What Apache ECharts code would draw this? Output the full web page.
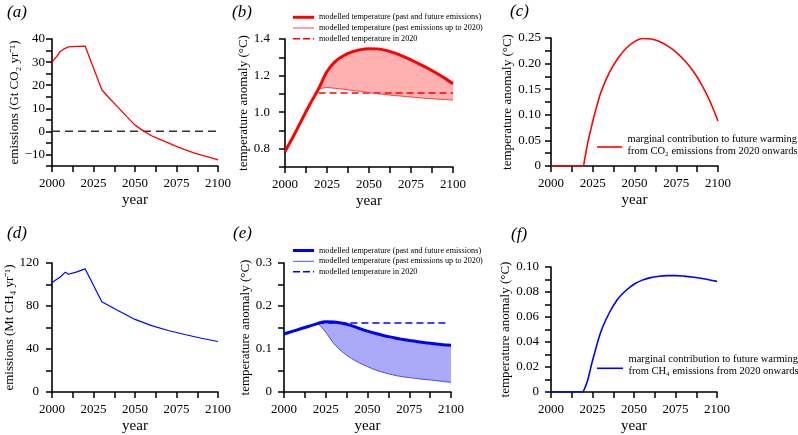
<!DOCTYPE html>
<html><head><meta charset="utf-8">
<script src="https://cdn.jsdelivr.net/npm/echarts@6/dist/echarts.min.js"></script>
<style>html,body{margin:0;padding:0;background:#fff}#c{width:798px;height:435px}</style>
</head><body><div id="c"></div>
<script>
// ---------- data ----------
const xTickLabels = ['2000', '2025', '2050', '2075', '2100'];

// (a) CO2 emissions, Gt CO2 / yr
const aYears = [2000, 2001, 2003, 2005, 2007, 2010, 2015, 2020, 2030, 2035, 2040, 2045, 2050, 2055, 2060, 2065, 2070, 2075, 2080, 2085, 2090, 2095, 2100];
const aValues = [30, 30.6, 32.6, 34.6, 35.6, 36.6, 36.8, 36.9, 18, 14, 10.3, 6.4, 2.7, 0.2, -1.9, -3.5, -5, -6.5, -7.9, -9.2, -10.3, -11.3, -12.3];
const aZeroYears = [2000, 2100];
const aZero = [0, 0];
const aYTickLabels = ['-10', '0', '10', '20', '30', '40'];

// (b) CO2 temperature
const tempYears = [2000, 2005, 2010, 2015, 2020, 2025, 2030, 2035, 2040, 2045, 2050, 2055, 2060, 2065, 2070, 2075, 2080, 2085, 2090, 2095, 2100];
const bThick = [0.785, 0.868, 0.958, 1.046, 1.128, 1.222, 1.278, 1.31, 1.330, 1.342, 1.347, 1.346, 1.338, 1.324, 1.306, 1.286, 1.263, 1.24, 1.214, 1.186, 1.155];
const futureYears = [2020, 2025, 2030, 2035, 2040, 2045, 2050, 2055, 2060, 2065, 2070, 2075, 2080, 2085, 2090, 2095, 2100];
const bThin = [1.128, 1.134, 1.130, 1.125, 1.119, 1.113, 1.107, 1.101, 1.096, 1.091, 1.087, 1.083, 1.079, 1.075, 1.072, 1.069, 1.066];
const bDashYears = [2020, 2100];
const bDash = [1.105, 1.105];
const bYTickLabels = ['0.8', '1.0', '1.2', '1.4'];

// (c) CO2 marginal contribution
const cYears = [2000, 2019, 2020, 2021, 2022, 2023, 2025, 2027, 2030, 2035, 2040, 2045, 2050, 2055, 2060, 2065, 2070, 2075, 2080, 2085, 2090, 2095, 2100];
const cValues = [0, 0, 0.01, 0.028, 0.045, 0.06, 0.087, 0.112, 0.145, 0.183, 0.21, 0.23, 0.243, 0.249, 0.248, 0.243, 0.234, 0.222, 0.206, 0.186, 0.16, 0.128, 0.088];
const cYTickLabels = ['0', '0.05', '0.10', '0.15', '0.20', '0.25'];

// (d) CH4 emissions, Mt CH4 / yr
const dYears = [2000, 2002, 2005, 2008, 2009, 2010, 2011, 2015, 2020, 2030, 2040, 2050, 2060, 2070, 2080, 2090, 2100];
const dValues = [101.5, 104, 107, 111.5, 111, 109.5, 110, 111.8, 114.5, 84, 75.5, 67.5, 61.8, 57.2, 53.5, 50, 47];
const dYTickLabels = ['0', '40', '80', '120'];

// (e) CH4 temperature
const eThick = [0.135, 0.141, 0.147, 0.153, 0.159, 0.1635, 0.163, 0.16, 0.155, 0.148, 0.1415, 0.136, 0.131, 0.127, 0.123, 0.12, 0.117, 0.1145, 0.112, 0.110, 0.1085];
const eThinYears = [2020, 2022, 2025, 2030, 2035, 2040, 2045, 2050, 2055, 2060, 2065, 2070, 2075, 2080, 2085, 2090, 2095, 2100];
const eThin = [0.159, 0.153, 0.139, 0.112, 0.093, 0.079, 0.068, 0.059, 0.051, 0.045, 0.04, 0.036, 0.0335, 0.031, 0.029, 0.027, 0.0245, 0.0225];
const eDashYears = [2020, 2097];
const eDash = [0.1605, 0.1605];
const eYTickLabels = ['0', '0.1', '0.2', '0.3'];

// (f) CH4 marginal contribution
const fYears = [2000, 2019, 2020, 2022, 2025, 2030, 2035, 2040, 2045, 2050, 2055, 2060, 2065, 2070, 2075, 2080, 2085, 2090, 2095, 2100];
const fValues = [0, 0, 0.002, 0.009, 0.025, 0.048, 0.063, 0.074, 0.081, 0.0862, 0.0895, 0.0915, 0.0926, 0.0931, 0.0931, 0.0927, 0.092, 0.091, 0.0898, 0.0885];
const fYTickLabels = ['0', '0.02', '0.04', '0.06', '0.08', '0.10'];

// ---------- helpers ----------
const FONT = "'Liberation Serif', 'Times New Roman', serif";
const RED = '#ff0000', BLUE = '#0000ff';
const pairs = (xs, ys) => xs.map((x, i) => [x, ys[i]]);
const at = (years, vals, y) => vals[years.indexOf(y)];
const pick = (labels) => (v) => {
  const hit = labels.find(s => Math.abs(parseFloat(s) - v) < 1e-7);
  return hit === undefined ? '' : hit.replace('-', '\u2212');
};
// white mask under the lower curve, widened by one year on each side to hide anti-aliasing seams
const maskData = (xs, ys) => [[xs[0] - 1, ys[0]]].concat(pairs(xs, ys), [[xs[xs.length - 1] + 1, ys[ys.length - 1]]]);

const grids = [
  { left: 52, top: 39, width: 166, height: 127 },
  { left: 285, top: 39, width: 168, height: 128 },
  { left: 551, top: 38, width: 167, height: 128 },
  { left: 52, top: 263, width: 166, height: 129 },
  { left: 284, top: 263, width: 167, height: 129 },
  { left: 551, top: 267, width: 166, height: 128 }
];

const mkTick = () => ({ show: true, inside: false, interval: 0, length: 6, lineStyle: { color: '#000', width: 1.5 } });

const xAxes = grids.map((g, i) => ({
  gridIndex: i, type: 'value', min: 2000, max: 2100, interval: 12.5,
  z: 10,
  axisLine: { show: true, onZero: false, lineStyle: { color: '#000', width: 1.6 } },
  axisTick: mkTick(), splitLine: { show: false },
  axisLabel: { show: true, formatter: pick(xTickLabels), fontFamily: FONT, fontSize: 13, color: '#000', margin: 11 },
  name: 'year', nameLocation: 'middle', nameGap: 27,
  nameTextStyle: { fontFamily: FONT, fontSize: 15, color: '#000' }
}));

const yConf = [
  { min: -15, max: 40, interval: 5, labels: aYTickLabels, margin: 7, name: 'emissions (Gt CO\u2082 yr\u207B\u00B9)', gap: 30 },
  { min: 0.7, max: 1.4, interval: 0.1, labels: bYTickLabels, margin: 15, name: 'temperature anomaly (\u00B0C)', gap: 31 },
  { min: 0, max: 0.25, interval: 0.025, labels: cYTickLabels, margin: 10, name: 'temperature anomaly (\u00B0C)', gap: 37 },
  { min: 0, max: 120, interval: 20, labels: dYTickLabels, margin: 13, name: 'emissions (Mt CH\u2084 yr\u207B\u00B9)', gap: 30 },
  { min: 0, max: 0.3, interval: 0.05, labels: eYTickLabels, margin: 12, name: 'temperature anomaly (\u00B0C)', gap: 29 },
  { min: 0, max: 0.1, interval: 0.01, labels: fYTickLabels, margin: 12, name: 'temperature anomaly (\u00B0C)', gap: 38 }
];
const yAxes = yConf.map((c, i) => ({
  gridIndex: i, type: 'value', min: c.min, max: c.max, interval: c.interval,
  axisLine: { show: true, onZero: false, lineStyle: { color: '#000', width: 1.6 } },
  axisTick: mkTick(), splitLine: { show: false },
  axisLabel: { show: true, formatter: pick(c.labels), fontFamily: FONT, fontSize: 13, color: '#000', margin: c.margin },
  name: c.name, nameLocation: 'middle', nameGap: c.gap,
  nameTextStyle: { fontFamily: FONT, fontSize: 13, color: '#000' }
}));

const line = (i, data, color, width, extra) => Object.assign({
  type: 'line', xAxisIndex: i, yAxisIndex: i, data, symbol: 'none', silent: true,
  lineStyle: { color, width }, z: 5
}, extra || {});

const SM = 0.3;
const bThickFuture = futureYears.map(y => at(tempYears, bThick, y));
const eThickFuture = eThinYears.map(y => {
  const k = tempYears.indexOf(y);
  if (k >= 0) return eThick[k];
  const j = tempYears.findIndex(t => t > y);
  const t0 = tempYears[j - 1], t1 = tempYears[j];
  return eThick[j - 1] + (eThick[j] - eThick[j - 1]) * (y - t0) / (t1 - t0);
});

const series = [
  // (a)
  line(0, pairs(aZeroYears, aZero), '#333', 1.5, { z: 4, lineStyle: { color: '#333', width: 1.5, type: [8, 5] } }),
  line(0, pairs(aYears, aValues), RED, 1.3),
  // (b) fill between curves: area under thick, masked by white area under thin
  line(1, pairs(futureYears, bThickFuture), RED, 0, { smooth: SM, z: 2, lineStyle: { opacity: 0 },
    areaStyle: { color: '#ffb0b0', opacity: 1, origin: 'start' } }),
  line(1, maskData(futureYears, bThin), '#fff', 0, { smooth: SM, z: 3, lineStyle: { opacity: 0 },
    areaStyle: { color: '#ffffff', opacity: 1, origin: 'start' } }),
  line(1, pairs(bDashYears, bDash), RED, 1.5, { z: 4, lineStyle: { color: RED, width: 1.5, type: [7, 4] } }),
  line(1, pairs(futureYears, bThin), '#ff3a3a', 1, { smooth: SM }),
  line(1, pairs(tempYears, bThick), RED, 3, { smooth: SM, z: 6 }),
  // (c)
  line(2, pairs(cYears, cValues), RED, 1.6, { smooth: SM, z: 12 }),
  // (d)
  line(3, pairs(dYears, dValues), BLUE, 1.2),
  // (e)
  line(4, pairs(eThinYears, eThickFuture), BLUE, 0, { smooth: SM, z: 2, lineStyle: { opacity: 0 },
    areaStyle: { color: '#aaaaf8', opacity: 1, origin: 'start' } }),
  line(4, maskData(eThinYears, eThin), '#fff', 0, { smooth: SM, z: 3, lineStyle: { opacity: 0 },
    areaStyle: { color: '#ffffff', opacity: 1, origin: 'start' } }),
  line(4, pairs(eDashYears, eDash), BLUE, 1.5, { z: 4, lineStyle: { color: BLUE, width: 1.5, type: [7, 4] } }),
  line(4, pairs(eThinYears, eThin), '#3a3aff', 0.9, { smooth: SM }),
  line(4, pairs(tempYears, eThick), BLUE, 3, { smooth: SM, z: 6 }),
  // (f)
  line(5, pairs(fYears, fValues), BLUE, 1.6, { smooth: SM, z: 12 })
];

// ---------- titles & legends (graphic) ----------
const txt = (x, y, text, font, extra) => ({
  type: 'text', x, y, silent: true, z: 100,
  style: Object.assign({ text, font, fill: '#000', align: 'left', verticalAlign: 'middle' }, extra || {})
});
const seg = (x1, x2, y, color, width, dash) => ({
  type: 'line', silent: true, z: 100, shape: { x1, y1: y, x2, y2: y },
  style: { stroke: color, lineWidth: width, lineDash: dash || null }
});
const TF = 'italic 17px ' + FONT;
const LF = '8.2px ' + FONT;
const MF = '10.5px ' + FONT;
const graphic = [
  txt(7, 12.5, '(a)', TF), txt(232, 12.5, '(b)', TF), txt(510, 12, '(c)', TF),
  txt(7, 234, '(d)', TF), txt(233, 234, '(e)', TF), txt(511, 235, '(f)', TF),
  seg(293, 314, 17.3, RED, 3), txt(319, 17.3, 'modelled temperature (past and future emissions)', LF),
  seg(293, 314, 28, '#ff5050', 1), txt(319, 28, 'modelled temperature (past emissions up to 2020)', LF),
  seg(293, 314, 38.7, RED, 1.5, [7, 3]), txt(319, 38.7, 'modelled temperature in 2020', LF),
  seg(293, 314, 250.5, BLUE, 3), txt(319, 250.5, 'modelled temperature (past and future emissions)', LF),
  seg(293, 314, 261.3, '#5050ff', 1), txt(319, 261.3, 'modelled temperature (past emissions up to 2020)', LF),
  seg(293, 314, 271.8, BLUE, 1.5, [7, 3]), txt(319, 271.8, 'modelled temperature in 2020', LF),
  seg(597, 622, 147, RED, 1.6),
  txt(627.5, 139, 'marginal contribution to future warming', MF),
  txt(627.5, 151, 'from CO\u2082 emissions from 2020 onwards', MF),
  seg(597, 623, 368.3, BLUE, 1.6),
  txt(628.5, 359.5, 'marginal contribution to future warming', MF),
  txt(628.5, 371.2, 'from CH\u2084 emissions from 2020 onwards', MF)
];

const chart = echarts.init(document.getElementById('c'), null, { renderer: 'canvas' });
chart.setOption({
  animation: false,
  backgroundColor: '#ffffff',
  textStyle: { fontFamily: FONT },
  grid: grids,
  xAxis: xAxes,
  yAxis: yAxes,
  series,
  graphic
});
</script>
</body></html>
